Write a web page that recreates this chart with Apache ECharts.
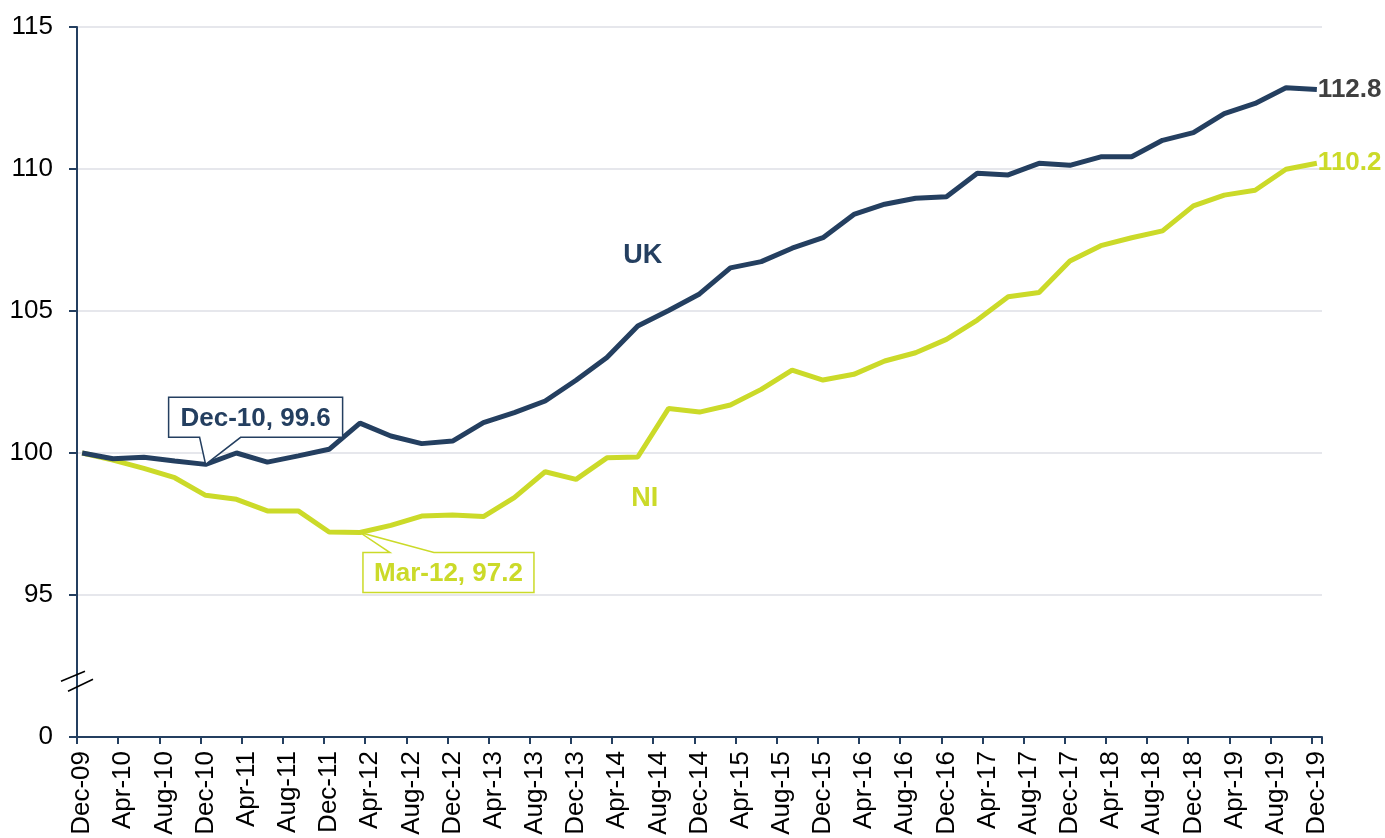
<!DOCTYPE html>
<html>
<head>
<meta charset="utf-8">
<script src="https://cdn.jsdelivr.net/npm/echarts@6/dist/echarts.min.js"></script>
<style>
  html, body { margin: 0; padding: 0; background: #fff; }
  #chart { width: 1385px; height: 838px; }
</style>
</head>
<body>
<div id="chart"></div>
<script>
// ---- Data (quarterly index, Dec-09 = 100) ----
const monthNames = ['Jan','Feb','Mar','Apr','May','Jun','Jul','Aug','Sep','Oct','Nov','Dec'];
// monthly categories Dec-09 ... Dec-19
const categories = [];
for (let m = 11; m <= 11 + 120; m++) {
  const yy = 9 + Math.floor(m / 12);
  categories.push(monthNames[m % 12] + '-' + String(yy).padStart(2, '0'));
}
// quarterly values, Dec-09, Mar-10, Jun-10, ... Dec-19
const ukIndex = [
  100.0, 99.8, 99.85, 99.72, 99.6, 100.0, 99.68, 99.9, 100.13, 101.05,
  100.6, 100.33, 100.42, 101.07, 101.42, 101.83, 102.56, 103.36, 104.47, 105.02,
  105.6, 106.52, 106.74, 107.21, 107.58, 108.4, 108.76, 108.97, 109.02, 109.85,
  109.79, 110.2, 110.13, 110.43, 110.43, 111.01, 111.28, 111.95, 112.31, 112.86,
  112.8
];
const niIndex = [
  100.0, 99.75, 99.46, 99.13, 98.51, 98.37, 97.96, 97.96, 97.22, 97.2,
  97.45, 97.78, 97.82, 97.76, 98.43, 99.34, 99.07, 99.83, 99.86, 101.57,
  101.44, 101.69, 102.24, 102.92, 102.57, 102.77, 103.24, 103.53, 104.0, 104.68,
  105.5, 105.65, 106.76, 107.3, 107.58, 107.82, 108.7, 109.08, 109.25, 109.99,
  110.2
];
const yTicks = [90, 95, 100, 105, 110, 115];
const yTickLabels = ['0', '95', '100', '105', '110', '115'];
const seriesNames = ['UK', 'NI'];

const NAVY = '#243F60';
const LIME = '#CBDA29';
const FONT = '"Liberation Sans", Arial, sans-serif';

function toMonthly(q) {
  return categories.map((c, i) => (i % 3 === 0 ? q[i / 3] : null));
}

const ukData = toMonthly(ukIndex);
const niData = toMonthly(niIndex);

const chart = echarts.init(document.getElementById('chart'), null, { renderer: 'canvas' });

function endLabel(color) {
  return {
    show: true, distance: 1,
    formatter: (p) => Number(p.value).toFixed(1),
    color: color, fontSize: 26, fontWeight: 'bold', fontFamily: FONT
  };
}

const option = {
  animation: false,
  backgroundColor: '#fff',
  grid: { left: 77, right: 63, top: 27, bottom: 101, containLabel: false },
  xAxis: {
    type: 'category',
    data: categories,
    boundaryGap: true,
    axisLine: { lineStyle: { color: NAVY, width: 2 } },
    axisTick: { show: true, interval: 3, length: 7, lineStyle: { color: NAVY, width: 2 } },
    axisLabel: {
      interval: 3, rotate: 90, margin: 14,
      color: '#000', fontSize: 26, fontFamily: FONT
    },
    splitLine: { show: false }
  },
  yAxis: {
    type: 'value',
    min: 90, max: 115, interval: 5,
    axisLine: { show: true, lineStyle: { color: NAVY, width: 2 } },
    axisTick: { show: true, length: 8, lineStyle: { color: NAVY, width: 2 } },
    axisLabel: {
      margin: 24, color: '#000', fontSize: 26, fontFamily: FONT,
      formatter: (v) => { const i = yTicks.indexOf(v); return i >= 0 ? yTickLabels[i] : ''; }
    },
    splitLine: { show: true, lineStyle: { color: '#E6E7EC', width: 2 } }
  },
  series: [
    {
      name: seriesNames[1], type: 'line', data: niData, connectNulls: true,
      symbol: 'none', lineStyle: { color: LIME, width: 5 }, z: 2,
      endLabel: endLabel(LIME),
      markPoint: {
        symbol: 'circle', symbolSize: 0,
        label: { show: true, color: LIME, fontSize: 27, fontWeight: 'bold', fontFamily: FONT, position: 'inside',
                 offset: [7, 0], formatter: seriesNames[1] },
        data: [{ coord: [54, 98.38] }]
      }
    },
    {
      name: seriesNames[0], type: 'line', data: ukData, connectNulls: true,
      symbol: 'none', lineStyle: { color: NAVY, width: 5 }, z: 3,
      endLabel: endLabel('#404040'),
      markPoint: {
        symbol: 'circle', symbolSize: 0,
        label: { show: true, color: NAVY, fontSize: 27, fontWeight: 'bold', fontFamily: FONT, position: 'inside',
                 offset: [5, 0], formatter: seriesNames[0] },
        data: [{ coord: [54, 106.94] }]
      }
    }
  ]
};
chart.setOption(option);

// ---- Callouts and axis-break mark, positioned through the chart's scales ----
function px(idx, val) { return chart.convertToPixel({ xAxisIndex: 0, yAxisIndex: 0 }, [idx, val]); }

const ukIdx = 4, niIdx = 9; // Dec-10 and Mar-12 quarters
const pUK = px(ukIdx * 3, ukIndex[ukIdx]);
const pNI = px(niIdx * 3, niIndex[niIdx]);
const pBreak = px(0, 92);
const x0 = chart.convertToPixel({ gridIndex: 0 }, [0, 92]) ? pBreak[0] : 77;
const axisX = 77, yb = pBreak[1];

function callout(p, box, wedge, color, text) {
  const [x, y] = p;
  const L = x + box[0], R = x + box[1], T = y + box[2], B = y + box[3];
  let pts;
  if (box[2] < 0) {
    pts = [[L, T], [R, T], [R, B], [x + wedge[1], B], [x, y], [x + wedge[0], B], [L, B]];
  } else {
    pts = [[L, T], [x + wedge[0], T], [x, y], [x + wedge[1], T], [R, T], [R, B], [L, B]];
  }
  return [
    { type: 'polygon', shape: { points: pts }, style: { fill: '#fff', stroke: color, lineWidth: 1.5 }, z: 100 },
    { type: 'text', x: (L + R) / 2, y: (T + B) / 2 + 1, z: 101,
      style: { text: text, fill: color, font: 'bold 26px ' + FONT, align: 'center', verticalAlign: 'middle' } }
  ];
}

const graphics = [].concat(
  callout(pUK, [-37, 137, -67, -27], [-6, 35], NAVY, categories[ukIdx * 3] + ', ' + ukIndex[ukIdx].toFixed(1)),
  callout(pNI, [3, 174, 20, 60], [30, 74], LIME, categories[niIdx * 3] + ', ' + niIndex[niIdx].toFixed(1)),
  [
    { type: 'line', z: 100, shape: { x1: axisX - 16, y1: yb + 1, x2: axisX + 8, y2: yb - 9 }, style: { stroke: '#000', lineWidth: 1.5 } },
    { type: 'line', z: 100, shape: { x1: axisX - 9, y1: yb + 11, x2: axisX + 16, y2: yb - 1 }, style: { stroke: '#000', lineWidth: 1.5 } }
  ]
);
chart.setOption({ graphic: graphics });
</script>
</body>
</html>
